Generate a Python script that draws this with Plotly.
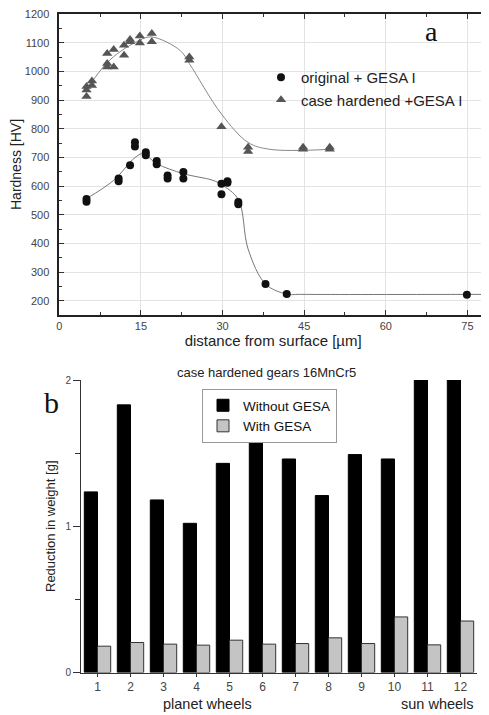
import plotly.graph_objects as go

# %% Data: panel a (hardness profiles)
circ_x = [5, 5, 10.9, 10.9, 13, 13.9, 13.9, 15.9, 15.9, 17.9, 17.9, 19.9, 19.9,
          22.8, 22.8, 29.8, 29.8, 30.9, 30.9, 32.9, 32.9, 37.9, 41.8, 74.9]
circ_y = [555, 545, 626, 617, 672, 753, 738, 718, 707, 687, 676, 637, 626,
          649, 626, 608, 571, 617, 611, 544, 536, 258, 223, 221]

tri_x = [5, 5, 5, 6, 6, 8.8, 8.8, 8.8, 10, 10, 11.9, 11.9, 13, 13, 14.8, 14.8,
         17, 17, 23.9, 23.9, 29.8, 34.7, 34.7, 44.8, 44.8, 49.7, 49.7]
tri_y = [912, 935, 947, 951, 966, 1015, 1027, 1062, 1015, 1076, 1056, 1091, 1103, 1111,
         1099, 1123, 1103, 1132, 1039, 1050, 807, 735, 720, 735, 728, 735, 728]

# fitted curves
circ_fit_x = [5, 10, 13.9, 15.4, 17.9, 22.8, 28.2, 29.8, 32.9, 34.7, 37.9, 41.8, 44.3, 79]
circ_fit_y = [556, 620, 699, 713, 678, 643, 620, 605, 553, 380, 258, 223, 222, 222]

tri_fit_x = [4.9, 9.3, 14.8, 17, 22.2, 23.9, 29.8, 34.7, 38.7, 49.7]
tri_fit_y = [933, 1040, 1109, 1120, 1073, 1027, 851, 752, 728, 728]

# %% Data: panel b (weight loss)
wheels = list(range(1, 13))
without_gesa = [1.235, 1.83, 1.18, 1.02, 1.43, 1.70, 1.46, 1.21, 1.49, 1.46, 2.0, 2.0]
with_gesa = [0.18, 0.205, 0.194, 0.187, 0.221, 0.194, 0.198, 0.237, 0.198, 0.38, 0.189, 0.352]

# page body has an 8px margin, so the figure is shrunk and positions shifted
OFF = 8
W, H = 489 - OFF, 715 - OFF
FONT = 'Liberation Sans, Arial, sans-serif'
SERIF = 'Liberation Serif, Times New Roman, serif'


def px(p):
    return (p - OFF) / W


def py(p):
    return 1 - (p - OFF) / H


fig = go.Figure()

# Panel a
fig.add_trace(go.Scatter(x=circ_fit_x, y=circ_fit_y, mode='lines', line=dict(color='#777', width=1, shape='spline'),
                         showlegend=False, xaxis='x', yaxis='y'))
fig.add_trace(go.Scatter(x=tri_fit_x, y=tri_fit_y, mode='lines', line=dict(color='#888', width=1, shape='spline'),
                         showlegend=False, xaxis='x', yaxis='y'))
fig.add_trace(go.Scatter(x=circ_x, y=circ_y, mode='markers', name='original + GESA I',
                         marker=dict(symbol='circle', size=8, color='#111'), legend='legend', xaxis='x', yaxis='y'))
fig.add_trace(go.Scatter(x=tri_x, y=tri_y, mode='markers', name='case hardened +GESA I',
                         marker=dict(symbol='triangle-up', size=9, color='#555'), legend='legend', xaxis='x', yaxis='y'))

# Panel b
fig.add_trace(go.Bar(x=wheels, y=without_gesa, name='Without GESA', marker=dict(color='black', line=dict(color='black', width=1)),
                     legend='legend2', xaxis='x2', yaxis='y2'))
fig.add_trace(go.Bar(x=wheels, y=with_gesa, name='With GESA', marker=dict(color='#c4c4c4', line=dict(color='#333', width=1)),
                     legend='legend2', xaxis='x2', yaxis='y2'))

fig.update_layout(
    width=W, height=H,
    margin=dict(l=0, r=0, t=0, b=0, autoexpand=False),
    paper_bgcolor='white', plot_bgcolor='white',
    font=dict(family=FONT, color='#222'),
    barmode='group', bargap=0.2, bargroupgap=0,
    xaxis=dict(domain=[px(59.3), px(487)], anchor='y', range=[0, 78.6], automargin=False,
               tickvals=[0, 15, 30, 45, 60, 75], ticks='inside', ticklen=5, tickcolor='#333',
               minor=dict(tickvals=[7.5, 22.5, 37.5, 52.5, 67.5], ticks='inside', ticklen=3, tickcolor='#333'),
               showgrid=True, gridcolor='#e3e3e3', showline=True, linecolor='#222', linewidth=1.5, mirror='ticks',
               zeroline=False, tickfont=dict(size=11, color='#444'), ticklabeloverflow='allow',
               title=dict(text='distance from surface [µm]', font=dict(size=15, color='#222'), standoff=4)),
    yaxis=dict(domain=[py(315), py(14)], anchor='x', range=[150, 1200], automargin=False,
               tickvals=list(range(200, 1201, 100)), ticks='inside', ticklen=5, tickcolor='#333',
               minor=dict(tickvals=list(range(250, 1200, 100)), ticks='inside', ticklen=3, tickcolor='#333'),
               showgrid=True, gridcolor='#e3e3e3', showline=True, linecolor='#222', linewidth=1.5, mirror='ticks',
               zeroline=False, tickfont=dict(size=11, color='#444'), ticklabelstandoff=6, ticklabeloverflow='allow',
               title=dict(text='Hardness [HV]', font=dict(size=14, color='#222'), standoff=0)),
    xaxis2=dict(domain=[px(81), px(477)], anchor='y2', range=[0.5, 12.5], automargin=False,
                tickvals=wheels, ticks='outside', ticklen=3, tickcolor='#333',
                showgrid=False, showline=True, linecolor='#333', linewidth=1, zeroline=False,
                tickfont=dict(size=12, color='#444')),
    yaxis2=dict(domain=[py(672.5), py(380)], anchor='x2', range=[0, 2], automargin=False,
                tickvals=[0, 1, 2], ticks='outside', ticklen=7, tickcolor='#333',
                minor=dict(tickvals=[0.5, 1.5], ticks='outside', ticklen=5, tickcolor='#333'),
                showgrid=False, showline=True, linecolor='#333', linewidth=1, zeroline=False,
                tickfont=dict(size=10, color='#444'),
                title=dict(text='Reduction in weight [g]', font=dict(size=13, color='#222'), standoff=6)),
    legend=dict(x=px(261), y=py(61), xanchor='left', yanchor='top', bgcolor='rgba(0,0,0,0)',
                font=dict(size=15, color='#222'), tracegroupgap=0),
    legend2=dict(x=px(202), y=py(389), xanchor='left', yanchor='top', bgcolor='white',
                 bordercolor='#999', borderwidth=1, font=dict(size=13.5, color='#111'), tracegroupgap=0),
    annotations=[
        dict(text='a', x=px(440), y=py(31), xref='paper', yref='paper', showarrow=False,
             yanchor='middle', font=dict(family=SERIF, size=28, color='#111')),
        dict(text='b', x=px(42), y=py(402), xref='paper', yref='paper', showarrow=False,
             yanchor='middle', font=dict(family=SERIF, size=30, color='#111')),
        dict(text='case hardened gears 16MnCr5', x=px(266), y=py(373), xref='paper', yref='paper',
             yanchor='middle', showarrow=False, font=dict(size=13, color='#222')),
        dict(text='planet wheels', x=px(207), y=py(714), xref='paper', yref='paper', showarrow=False,
             yanchor='bottom', font=dict(size=14.5, color='#222')),
        dict(text='sun wheels', x=px(476), y=py(714), xref='paper', yref='paper', showarrow=False,
             xanchor='right', yanchor='bottom', font=dict(size=14.5, color='#222')),
    ],
)

fig.write_html("out.html")
